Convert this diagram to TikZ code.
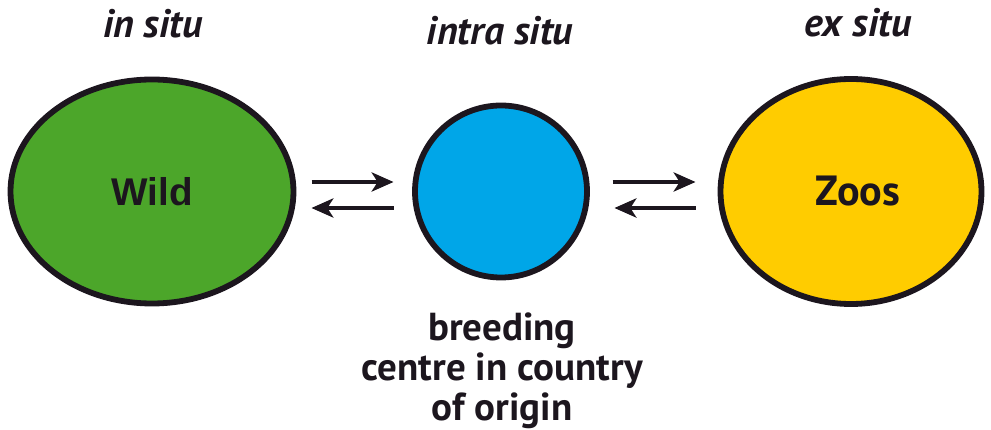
\documentclass[tikz,border=0pt]{standalone}
\usepackage{fontspec}
\setmainfont{PT Sans}
\newfontfamily\wildfont{Liberation Sans}
\usepackage{xcolor}
\usepackage{tikz}
\usetikzlibrary{shapes.geometric, arrows.meta, positioning, calc}
\definecolor{SituGreen}{RGB}{76, 166, 42}
\definecolor{SituBlue}{RGB}{0, 166, 232}
\definecolor{SituYellow}{RGB}{255, 204, 0}
\definecolor{SituInk}{RGB}{28, 22, 30}

\begin{document}
\begin{tikzpicture}[
    pool/.style={ellipse, draw=SituInk, line width=3.3pt, inner sep=0pt, outer sep=0pt},
    tag/.style={anchor=base, font=\fontsize{22.6}{26}\selectfont\bfseries\itshape, text=SituInk},
    flow/.style={-{Stealth[length=12.5pt, width=11pt, inset=3.5pt]}, line width=1.8pt, draw=SituInk}
  ]
    \useasboundingbox (0,0) rectangle (19.82,8.6);

    % the three places
    \node[pool, fill=SituGreen, minimum width=5.66cm, minimum height=4.48cm] (wild) at (3.04,4.77)
      {\wildfont\fontsize{22}{24}\selectfont\bfseries\color{SituInk}Wild};
    \node[pool, fill=SituBlue, minimum width=3.44cm, minimum height=3.44cm] (breed) at (10.02,4.77) {};
    \node[pool, fill=SituYellow, minimum width=5.22cm, minimum height=4.5cm] (zoo) at (17.02,4.77)
      {\hspace*{0.28cm}{\fontsize{24}{26}\selectfont\bfseries\color{SituInk}Zoos}};

    % headings
    \node[tag] (insitu) at (3.06,7.84) {in situ};
    \node[tag] (intrasitu) at (10.0,7.70) {intra situ};
    \node[tag] (exsitu) at (17.16,7.86) {ex situ};

    % caption under the centre
    \node[anchor=north, align=center, inner sep=0pt, text=SituInk,
          font=\fontsize{22.2}{23}\selectfont\bfseries] (origin) at (10.04,2.36)
      {breeding\\centre in country\\of origin};

    % exchange both ways
    \draw[flow] ($(wild.east)+(0.36,0.19)$) -- ($(breed.west)+(-0.43,0.19)$);
    \draw[flow] ($(breed.west)+(-0.43,-0.33)$) -- ($(wild.east)+(0.36,-0.33)$);
    \draw[flow] ($(breed.east)+(0.51,0.19)$) -- ($(zoo.west)+(-0.5,0.19)$);
    \draw[flow] ($(zoo.west)+(-0.5,-0.33)$) -- ($(breed.east)+(0.55,-0.33)$);
  \end{tikzpicture}
\end{document}
